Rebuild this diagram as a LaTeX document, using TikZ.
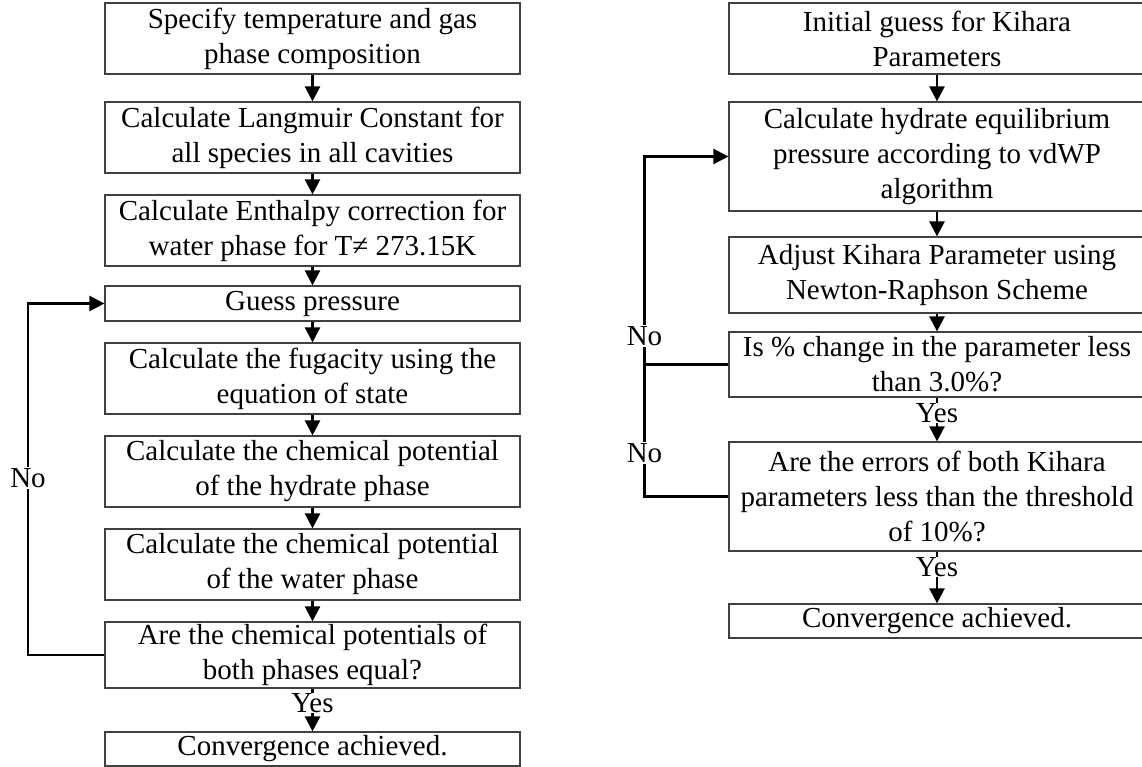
\documentclass[tikz,border=0pt]{standalone}
\usepackage{fontspec}
\setmainfont{Liberation Serif}
\usetikzlibrary{arrows.meta}
\tikzset{
  box/.style={draw=black!75, line width=1.2pt, rectangle, inner sep=0pt, align=center,
    font=\fontsize{29pt}{35pt}\selectfont, minimum width=416pt},
  conn/.style={draw=black, line width=2.4pt},
  arr/.style={conn, -{Triangle[width=15pt,length=15pt]}},
  lbl/.style={inner sep=1pt, font=\fontsize{29pt}{35pt}\selectfont},
}
\begin{document}
\begin{tikzpicture}[x=1pt,y=-1pt]
\useasboundingbox (0,0) rectangle (1142,767);
% left column
\node[box, minimum height=71pt, minimum width=415pt] (B1) at (312.5,38.5) {Specify temperature and gas\\phase composition};
\node[box, minimum height=71pt, minimum width=415pt] (B2) at (312.5,137.5) {Calculate Langmuir Constant for\\all species in all cavities};
\node[box, minimum height=71pt, minimum width=415pt] (B3) at (312.5,230.5) {Calculate Enthalpy correction for\\water phase for T≠ 273.15K};
\node[box, minimum height=35pt, minimum width=415pt] (B4) at (312.5,303.5) {Guess pressure};
\node[box, minimum height=71pt, minimum width=415pt] (B5) at (312.5,378.5) {Calculate the fugacity using the\\equation of state};
\node[box, minimum height=71pt, minimum width=415pt] (B6) at (312.5,471.5) {Calculate the chemical potential\\of the hydrate phase};
\node[box, minimum height=71pt, minimum width=415pt] (B7) at (312.5,564.5) {Calculate the chemical potential\\of the water phase};
\node[box, minimum height=66pt, minimum width=415pt] (B8) at (312.5,655) {Are the chemical potentials of\\both phases equal?};
\node[box, minimum height=34pt, minimum width=415pt] (B9) at (312.5,749) {Convergence achieved.};
% right column
\node[box, minimum height=71pt] (R1) at (937,38.5) {Initial guess for Kihara\\Parameters};
\node[box, minimum height=109pt] (R2) at (937,156.5) {Calculate hydrate equilibrium\\pressure according to vdWP\\algorithm};
\node[box, minimum height=76pt] (R3) at (937,275) {Adjust Kihara Parameter using\\Newton-Raphson Scheme};
\node[box, minimum height=65pt] (R4) at (937,364.5) {Is \% change in the parameter less\\than 3.0\%?};
\node[box, minimum height=109pt] (R5) at (937,496.5) {Are the errors of both Kihara\\parameters less than the threshold\\of 10\%?};
\node[box, minimum height=34pt] (R6) at (937,621) {Convergence achieved.};
% loop coordinates
\coordinate (LL) at (28,0);
\coordinate (RL) at (644.5,0);
% left arrows
\draw[arr] (B1) -- (B2);
\draw[arr] (B2) -- (B3);
\draw[arr] (B3) -- (B4);
\draw[arr] (B4) -- (B5);
\draw[arr] (B5) -- (B6);
\draw[arr] (B6) -- (B7);
\draw[arr] (B7) -- (B8);
\draw[arr] (B8) -- (B9);
\draw[arr] (B8.west) -- (B8.west -| LL) -- (LL |- B4.west) -- (B4.west);
% right arrows
\draw[arr] (R1) -- (R2);
\draw[arr] (R2) -- (R3);
\draw[arr] (R3) -- (R4);
\draw[arr] (R4) -- (R5);
\draw[arr] (R5) -- (R6);
\draw[arr] (R5.west) -- (R5.west -| RL) -- (RL |- R2.west) -- (R2.west);
\draw[conn] (R4.west) -- (R4.west -| RL);
% labels
\node[lbl, fill=white, inner sep=0pt] (yes1) at (312.5,703) {Yes};
\node[lbl, fill=white, inner sep=0pt] (yes2) at (937,413) {Yes};
\node[lbl, fill=white, inner sep=0pt] (yes3) at (937,567) {Yes};
\node[lbl, fill=white] (no1) at (28,478) {No};
\node[lbl, fill=white] (no2) at (644.5,336) {No};
\node[lbl, fill=white] (no3) at (644.5,453) {No};
\end{tikzpicture}
\end{document}
